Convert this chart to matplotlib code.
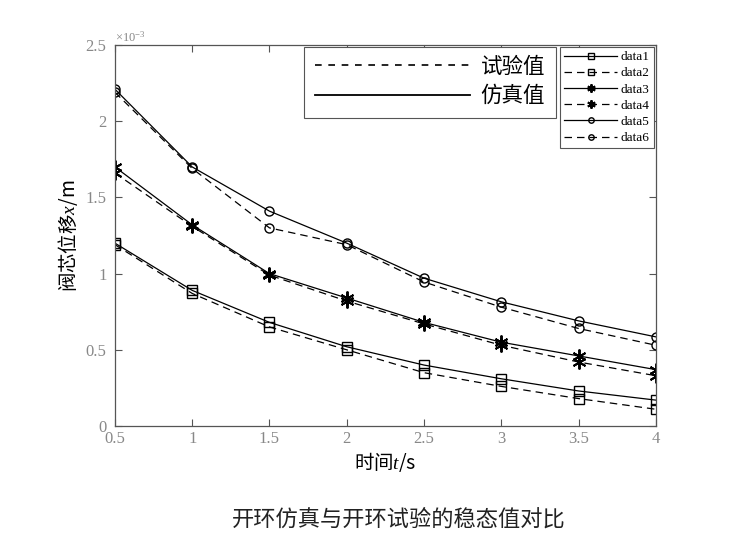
import numpy as np
import matplotlib.pyplot as plt
from matplotlib.lines import Line2D

plt.rcParams['font.family'] = ['Liberation Serif', 'Noto Sans CJK SC']
plt.rcParams['mathtext.fontset'] = 'custom'
plt.rcParams['mathtext.rm'] = 'Liberation Serif'
plt.rcParams['mathtext.it'] = 'Liberation Serif:italic'

t = [0.5, 1, 1.5, 2, 2.5, 3, 3.5, 4]
# valve displacement, units of 1e-3 m
data1 = [1.20, 0.89, 0.68, 0.52, 0.40, 0.31, 0.23, 0.17]   # sim
data2 = [1.19, 0.87, 0.65, 0.50, 0.35, 0.26, 0.18, 0.11]   # test
data3 = [1.70, 1.32, 1.00, 0.84, 0.68, 0.55, 0.46, 0.37]
data4 = [1.66, 1.31, 0.99, 0.82, 0.67, 0.53, 0.42, 0.33]
data5 = [2.21, 1.70, 1.41, 1.20, 0.97, 0.815, 0.69, 0.585]
data6 = [2.19, 1.69, 1.30, 1.19, 0.945, 0.78, 0.64, 0.53]

series = [('data1', data1, '-', 's'), ('data2', data2, '--', 's'),
          ('data3', data3, '-', '*'), ('data4', data4, '--', '*'),
          ('data5', data5, '-', 'o'), ('data6', data6, '--', 'o')]

fig = plt.figure(figsize=(7.32, 5.49), dpi=100)
ax = fig.add_axes([0.157, 0.224, 0.739, 0.694])

handles = []
for name, vals, ls, mk in series:
    if mk == '*':
        marker, ms, mew = (6, 2, 0), 10, 1.4
    else:
        marker, ms, mew = mk, 6.5, 1.0
    h, = ax.plot(t, vals, color='black', linestyle=ls, linewidth=0.9,
                 marker=marker, markersize=ms, markerfacecolor='none',
                 markeredgecolor='black', markeredgewidth=mew,
                 dashes=(6, 4) if ls == '--' else (None, None), label=name)
    handles.append(h)

ax.set_xlim(0.5, 4)
ax.set_ylim(0, 2.5)
ax.set_xticks([0.5, 1, 1.5, 2, 2.5, 3, 3.5, 4])
ax.set_xticklabels(['0.5', '1', '1.5', '2', '2.5', '3', '3.5', '4'])
ax.set_yticks([0, 0.5, 1, 1.5, 2, 2.5])
ax.set_yticklabels(['0', '0.5', '1', '1.5', '2', '2.5'])
ax.tick_params(direction='in', top=True, right=True, labelsize=12, labelcolor='#888888',
               color='#555555', length=5)
ax.tick_params(axis='y', pad=6)
for s in ax.spines.values():
    s.set_color('#555555')
    s.set_linewidth(0.9)

ax.text(0.0, 1.0, r'$\times10^{-3}$', transform=ax.transAxes, fontsize=9,
        color='#888888', ha='left', va='bottom')

ax.set_xlabel('时间$t$/s', fontsize=14, labelpad=2, family=['Noto Sans CJK SC'])
ax.set_ylabel('阀芯位移$x$/m', fontsize=14, labelpad=4, family=['Noto Sans CJK SC'])

leg2 = ax.legend(handles=handles, loc='upper right', fontsize=9.5, handlelength=4.0,
                 labelspacing=0.3, borderpad=0.3, handletextpad=0.3, markerscale=0.6,
                 fancybox=False, edgecolor='#555555', framealpha=1,
                 borderaxespad=0.15)
leg2.get_frame().set_linewidth(0.8)
ax.add_artist(leg2)

style_handles = [Line2D([], [], color='black', linestyle='--', dashes=(4, 4), linewidth=1.2),
                 Line2D([], [], color='black', linestyle='-', linewidth=1.3)]
leg1 = ax.legend(style_handles, ['试验值', '仿真值'], loc='upper right',
                 bbox_to_anchor=(0.815, 0.995), fontsize=15.5, handlelength=7.2,
                 labelspacing=0.4, borderpad=0.5, handletextpad=0.5,
                 fancybox=False, edgecolor='#555555', framealpha=1,
                 borderaxespad=0.0)
leg1.get_frame().set_linewidth(0.8)

fig.text(0.545, 0.055, '开环仿真与开环试验的稳态值对比', fontsize=16,
         ha='center', va='center', family=['Noto Sans CJK SC'], color='#222222')

fig.savefig('out.png', dpi=100)
